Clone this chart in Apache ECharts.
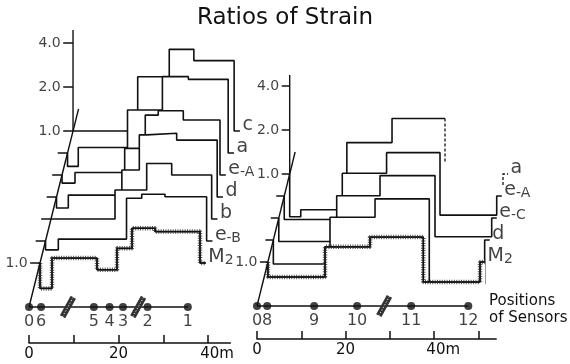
<!DOCTYPE html>
<html>
<head>
<meta charset="utf-8">
<script src="https://cdn.jsdelivr.net/npm/echarts@6/dist/echarts.min.js"></script>
<style>
  html, body { margin: 0; background: #fff; }
  #chart { width: 570px; height: 364px; }
</style>
</head>
<body>
<div id="chart"></div>
<script>
// each curve sits one layer further back: shifted right (m) and up (doublings of the ratio)
const LAYER_DX = 1.23
const LAYER_DY = 0.5

// ---- left section, sensors 0-6 ----
const leftSensorPos = [0, 2.7, 14.5, 18, 21, 26.5, 35.5]
const leftSensorNames = ['0', '6', '5', '4', '3', '2', '1']
const leftCracks = [8.7, 24.4]
const leftNames = ['c', 'a', 'e-A', 'd', 'b', 'e-B', 'M2']
const leftLayers = [8, 7, 6, 5, 4, 3, 2]
// positions (m) where the ratio changes; the last one is where the curve returns to 1.0
const leftSteps = [
  [14.45, 21.5, 27.0, 36.0],
  [2.4, 13.4, 21.2, 27.0, 35.9],
  [2.9, 14.0, 18.6, 21.5, 27.1, 35.3],
  [2.63, 14.6, 18.5, 20.15, 26.85, 35.9],
  [14.3, 21.38, 26.97, 35.9],
  [2.86, 18.1, 21.5, 26.7, 36.0],
  [2.68, 12.74, 17.2, 20.56, 25.7, 35.75]
]
// ratio of strain on each stretch
const leftRatios = [
  [1.0, 2.35, 3.62, 3.03],
  [0.81, 1.09, 1.97, 3.33, 3.19],
  [0.88, 1.04, 1.52, 2.57, 2.75, 2.38],
  [0.84, 1.03, 1.53, 2.66, 2.73, 2.45],
  [1.0, 1.58, 2.40, 2.0],
  [0.87, 1.03, 1.96, 2.09, 2.01],
  [0.67, 1.08, 0.90, 1.26, 1.73, 1.64]
]

// ---- right section, sensors 8-12 ----
const rightSensorPos = [0, 2.3, 12.9, 22.6, 34.8, 47.7]
const rightSensorNames = ['0', '8', '9', '10', '11', '12']
const rightCracks = [28.7]
const rightNames = ['a', 'e-A', 'e-C', 'd', 'M2']
const rightLayers = [6, 5, 4, 3, 2]
const rightSteps = [
  [2.5, 12.9, 23.1, 35.06],
  [13.1, 23.1, 35.16, 47.96],
  [13.07, 22.85, 35.26, 48.06],
  [12.79, 22.95, 35.2, 47.7],
  [12.89, 23.05, 35.08, 47.88]
]
const rightRatios = [
  [0.51, 0.57, 1.64, 2.40],
  [0.69, 1.43, 1.98, 0.74],
  [0.69, 1.42, 1.95, 0.745],
  [0.685, 1.43, 1.91, 0.5],
  [0.79, 1.27, 1.48, 0.73]
]
// curve "a" has no full reading after sensor 11: drawn dashed
const rightDashedName = 'a'
const rightDashDrop = 1.21
const rightDashEnd = [48.15, 0.84]

const axisTickRatios = [1, 2, 4]
const axisTickLabels = ['1.0', '2.0', '4.0']
const scaleTicks = [[0, 10, 20, 30, 40], [0, 10, 20, 30, 40, 50]]
const scaleLabels = [0, 20, 40]

const INK = '#111'
const FONT = 'DejaVu Sans'

const panels = [
  { grid: 0, names: leftNames, layers: leftLayers, steps: leftSteps, ratios: leftRatios,
    sensors: leftSensorPos, sensorNames: leftSensorNames, cracks: leftCracks,
    topLayer: 8, axisTop: 4.9, tail: 1.3, tick: 2.2 },
  { grid: 1, names: rightNames, layers: rightLayers, steps: rightSteps, ratios: rightRatios,
    sensors: rightSensorPos, sensorNames: rightSensorNames, cracks: rightCracks,
    topLayer: 6, axisTop: 4.76, tail: 1.15, tick: 1.8,
    dashed: { name: rightDashedName, drop: rightDashDrop, end: rightDashEnd } }
]

// step outline of one curve, starting and ending at its own 1.0 level
function curvePoints(k, steps, ratios, closed, tail) {
  const x0 = k * LAYER_DX
  const y0 = k * LAYER_DY
  const pts = [[x0, y0], [x0, y0 + Math.log2(ratios[0])]]
  steps.forEach((s, i) => {
    pts.push([x0 + s, y0 + Math.log2(ratios[i])])
    if (i + 1 < ratios.length) pts.push([x0 + s, y0 + Math.log2(ratios[i + 1])])
  })
  if (closed) {
    const xe = x0 + steps[steps.length - 1]
    pts.push([xe, y0], [xe + tail, y0])
  }
  return pts
}

const nameRich = n => n.length === 1 ? `{m|${n}}` : `{m|${n[0]}}{s|${n.slice(1)}}`

const linesSeries = (grid, coordsList, style, z) => ({
  type: 'lines', coordinateSystem: 'cartesian2d', xAxisIndex: grid, yAxisIndex: grid,
  polyline: true, silent: true, z: z || 60,
  lineStyle: Object.assign({ color: INK, width: 1.4, opacity: 1, curveness: 0 }, style),
  data: coordsList.map(c => ({ coords: c }))
})

const series = []
panels.forEach(p => {
  const ax = { xAxisIndex: p.grid, yAxisIndex: p.grid }
  const labelPts = []

  p.names.forEach((name, i) => {
    const k = p.layers[i]
    const steps = p.steps[i]
    const ratios = p.ratios[i]
    const open = p.dashed && p.dashed.name === name
    const data = curvePoints(k, steps, ratios, !open, p.tail)
    // white area under each curve hides the curves behind it
    series.push({
      type: 'line', ...ax, data, symbol: 'none', clip: false, silent: true, z: 2 * (20 - k),
      lineStyle: { color: INK, width: 1.6 },
      areaStyle: { color: '#fff', opacity: 1, origin: 'start' }
    })
    if (name === 'M2') {
      series.push({ type: 'line', ...ax, data, symbol: 'none', clip: false, silent: true, z: 2 * (20 - k) + 1,
        lineStyle: { color: '#555', width: 4.5, type: [1, 1.4] } })
      series.push({ type: 'line', ...ax, data, symbol: 'none', clip: false, silent: true, z: 2 * (20 - k) + 1,
        lineStyle: { color: INK, width: 1.4 } })
    }
    const x0 = k * LAYER_DX
    const y0 = k * LAYER_DY
    const last = steps[steps.length - 1]
    if (open) {
      const d = p.dashed
      series.push(linesSeries(p.grid, [
        [[x0 + last, y0 + Math.log2(ratios[ratios.length - 1])], [x0 + last, y0 + Math.log2(d.drop)]],
        [[x0 + d.end[0], y0 + Math.log2(d.end[1])], [x0 + d.end[0], y0], [x0 + d.end[0] + p.tail, y0]]
      ], { width: 1.3, type: [3, 2] }))
      labelPts.push([x0 + d.end[0] + p.tail, y0, name])
    } else {
      labelPts.push([x0 + last + p.tail, y0, name])
    }
  })

  // diagonal baseline, ticks at each curve's 1.0 and the ratio scale of the back curve
  const top = p.topLayer
  const ticks = []
  p.layers.forEach(k => ticks.push([[k * LAYER_DX - p.tick, k * LAYER_DY], [k * LAYER_DX, k * LAYER_DY]]))
  axisTickRatios.slice(1).forEach(r => {
    const y = top * LAYER_DY + Math.log2(r)
    ticks.push([[top * LAYER_DX - p.tick, y], [top * LAYER_DX, y]])
  })
  series.push(linesSeries(p.grid, [
    [[0, 0], [(top + 1) * LAYER_DX, (top + 1) * LAYER_DY]],
    [[top * LAYER_DX, top * LAYER_DY], [top * LAYER_DX, top * LAYER_DY + Math.log2(p.axisTop)]],
    [[0, 0], [p.sensors[p.sensors.length - 1], 0]]
  ].concat(ticks), { width: 1.4 }))

  const bottom = Math.min(...p.layers)
  const tickLabels = [[bottom * LAYER_DX - p.tick, bottom * LAYER_DY, '1.0']]
  axisTickRatios.forEach((r, i) => tickLabels.push([top * LAYER_DX - p.tick, top * LAYER_DY + Math.log2(r), axisTickLabels[i]]))
  series.push({
    type: 'scatter', ...ax, data: tickLabels, symbolSize: 1, silent: true, z: 60,
    itemStyle: { color: 'rgba(0,0,0,0)' },
    label: { show: true, position: 'left', distance: 2, formatter: q => q.data[2],
      color: INK, fontFamily: FONT, fontSize: 14 }
  })

  // cracks on the sensor line
  const crackCoords = p.cracks.map(c => [[c - 1.2, -0.22], [c + 1.2, 0.22]])
  series.push(linesSeries(p.grid, crackCoords, { width: 6, color: '#333' }, 61))
  series.push(linesSeries(p.grid, crackCoords, { width: 1, color: '#fff', type: [1, 2] }, 62))

  series.push({
    type: 'scatter', ...ax, symbol: 'circle', symbolSize: 8, silent: true, z: 63,
    itemStyle: { color: INK },
    data: p.sensors.map((s, i) => [s, 0, p.sensorNames[i]]),
    label: { show: true, position: 'bottom', distance: 3, formatter: q => q.data[2],
      color: INK, fontFamily: FONT, fontSize: 16 }
  })

  series.push({
    type: 'scatter', ...ax, data: labelPts, symbolSize: 1, silent: true, z: 64,
    itemStyle: { color: 'rgba(0,0,0,0)' },
    label: { show: true, position: 'right', distance: 2, verticalAlign: 'bottom', offset: [0, 4],
      formatter: q => nameRich(q.data[2]),
      rich: {
        m: { fontSize: 19, color: INK, fontFamily: FONT, verticalAlign: 'bottom' },
        s: { fontSize: 14, color: INK, fontFamily: FONT, verticalAlign: 'bottom' }
      } }
  })
})

const scaleAxis = (grid, max, i) => ({
  gridIndex: grid, type: 'value', min: 0, max, z: 100,
  axisLine: { show: true, onZero: false, lineStyle: { color: INK, width: 1.5 } },
  axisTick: { show: true, inside: true, length: 8, customValues: scaleTicks[i], lineStyle: { color: INK, width: 1.5 } },
  axisLabel: { customValues: scaleLabels, margin: 4, color: INK, fontFamily: FONT, fontSize: 15,
    formatter: v => v === 40 ? '{u|40m}' : String(v),
    rich: { u: { padding: [0, 0, 0, 18], color: INK, fontFamily: FONT, fontSize: 15 } } },
  splitLine: { show: false }
})

const chart = echarts.init(document.getElementById('chart'))
chart.setOption({
  animation: false,
  backgroundColor: '#fff',
  title: [
    { text: 'Ratios of Strain', left: 'center', top: 2, z: 100,
      textStyle: { color: INK, fontFamily: FONT, fontSize: 23, fontWeight: 'normal' } },
    { text: 'Positions\nof Sensors', left: 484, top: 288, z: 100,
      textStyle: { color: INK, fontFamily: FONT, fontSize: 15, lineHeight: 17, fontWeight: 'normal' } }
  ],
  grid: [
    { left: 29, top: 21, width: 223.75, height: 330 },
    { left: 257, top: 20, width: 265.8, height: 330 },
    { left: 29, top: 300, width: 201.4, height: 43 },
    { left: 257, top: 300, width: 239.2, height: 39 }
  ],
  xAxis: [
    { gridIndex: 0, type: 'value', min: 0, max: 50, show: false },
    { gridIndex: 1, type: 'value', min: 0, max: 60, show: false },
    scaleAxis(2, 45, 0),
    scaleAxis(3, 54, 1)
  ],
  yAxis: [
    { gridIndex: 0, type: 'value', min: -1, max: 6.5, show: false },
    { gridIndex: 1, type: 'value', min: -1, max: 6.5, show: false },
    { gridIndex: 2, type: 'value', show: false },
    { gridIndex: 3, type: 'value', show: false }
  ],
  series
})
</script>
</body>
</html>
